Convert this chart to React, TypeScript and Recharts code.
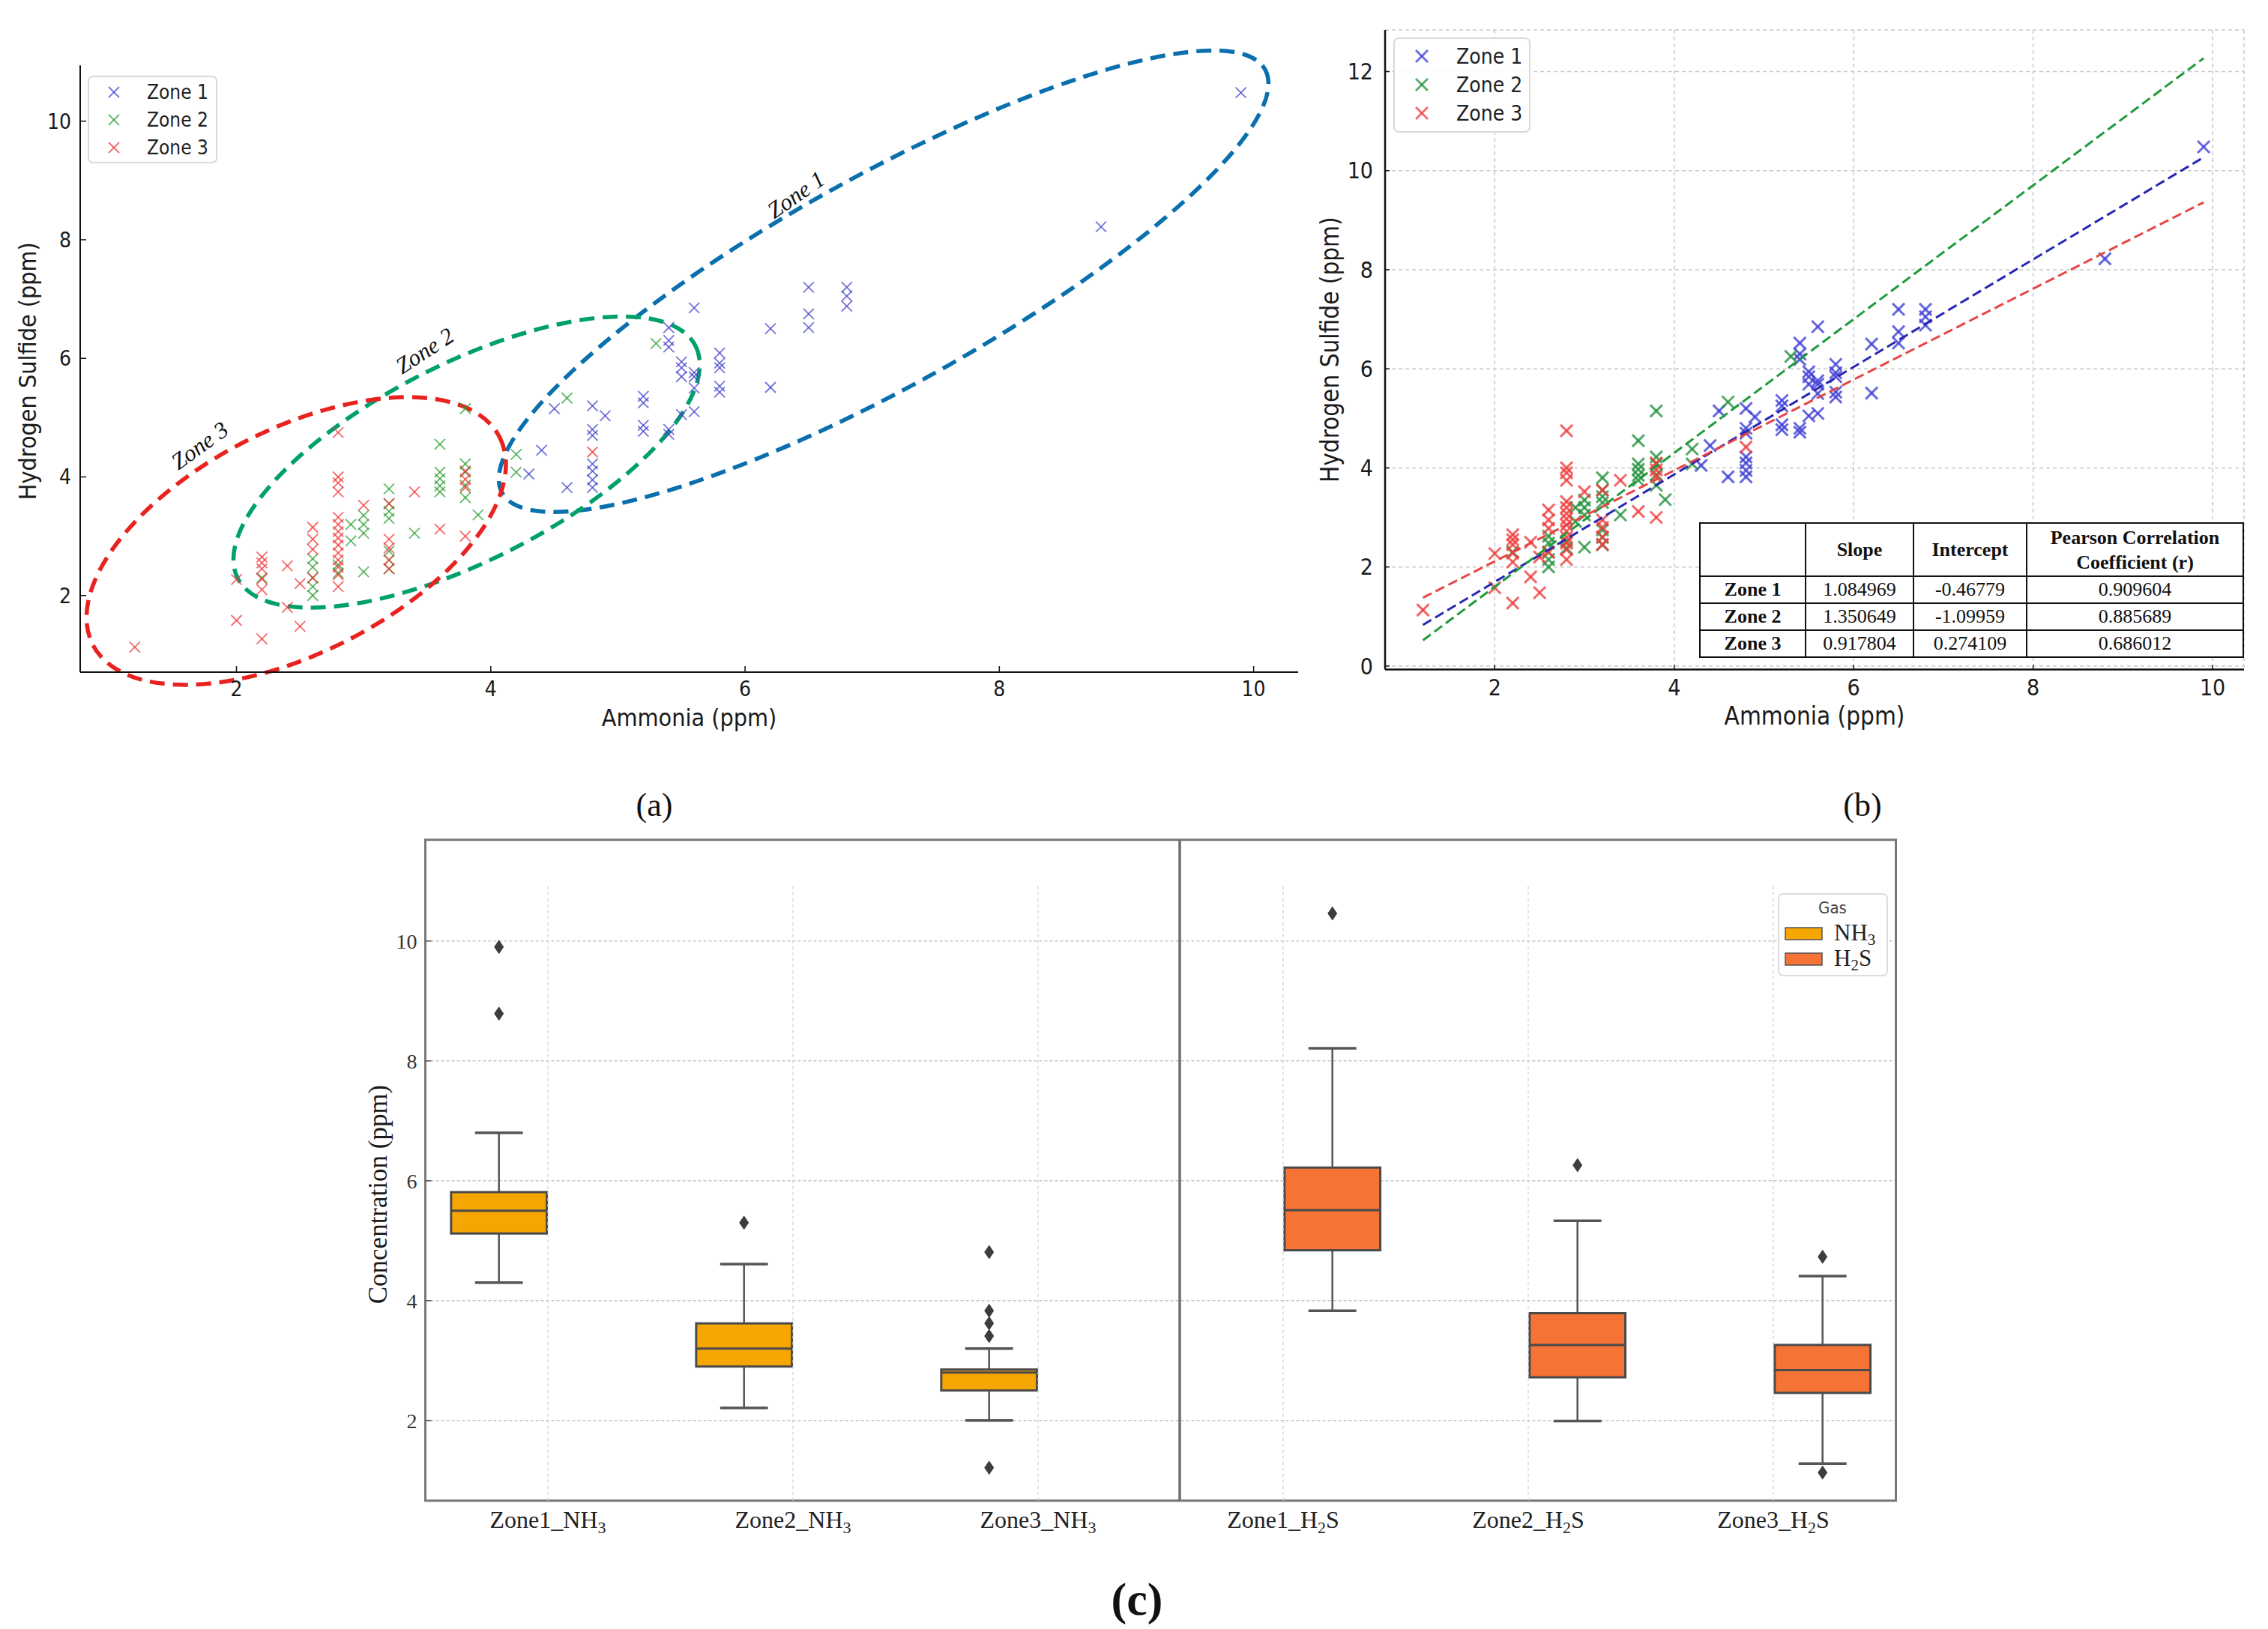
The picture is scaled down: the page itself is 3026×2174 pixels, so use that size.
import {
  Bar,
  CartesianGrid,
  ComposedChart,
  ReferenceArea,
  ReferenceLine,
  Scatter,
  XAxis,
  YAxis,
} from 'recharts';

const SANS = "'DejaVu Sans Condensed', 'DejaVu Sans', sans-serif";
const SERIF = "'Liberation Serif', 'Times New Roman', serif";

// readings per zone: [ammonia ppm, hydrogen sulfide ppm]
const zone1Readings: number[][] = [
  [4.3, 4.05], [4.4, 4.45], [4.5, 5.15], [4.6, 3.82],
  [4.8, 5.2], [4.8, 4.8], [4.8, 4.7], [4.8, 4.22], [4.8, 4.1], [4.8, 3.95], [4.8, 3.82],
  [4.9, 5.03],
  [5.2, 5.36], [5.2, 5.25], [5.2, 4.87], [5.2, 4.77],
  [5.4, 6.52], [5.4, 6.3], [5.4, 6.19], [5.4, 4.8], [5.4, 4.72],
  [5.5, 5.94], [5.5, 5.84], [5.5, 5.69], [5.5, 5.05],
  [5.6, 6.85], [5.6, 5.76], [5.6, 5.69], [5.6, 5.5], [5.6, 5.1],
  [5.8, 6.09], [5.8, 5.92], [5.8, 5.84], [5.8, 5.53], [5.8, 5.43],
  [6.2, 6.5], [6.2, 5.51],
  [6.5, 7.2], [6.5, 6.75], [6.5, 6.52],
  [6.8, 7.2], [6.8, 7.05], [6.8, 6.88],
  [8.8, 8.22], [9.9, 10.48],
];

const zone2Readings: number[][] = [
  [2.2, 2.3], [2.6, 2.0], [2.6, 2.15], [2.6, 2.3], [2.6, 2.48], [2.6, 2.62],
  [2.8, 2.38], [2.8, 2.52], [2.9, 2.92], [2.9, 3.2],
  [3.0, 2.4], [3.0, 3.05], [3.0, 3.2], [3.0, 3.35],
  [3.2, 2.45], [3.2, 2.6], [3.2, 2.75], [3.2, 3.3], [3.2, 3.42], [3.2, 3.55], [3.2, 3.8],
  [3.4, 3.05],
  [3.6, 3.75], [3.6, 3.85], [3.6, 3.97], [3.6, 4.08], [3.6, 4.55],
  [3.8, 3.65], [3.8, 3.86], [3.8, 4.08], [3.8, 4.22], [3.8, 5.15],
  [3.9, 3.36], [4.2, 4.08], [4.2, 4.38], [4.6, 5.33], [5.3, 6.25],
];

const zone3Readings: number[][] = [
  [1.2, 1.13], [2.0, 1.58], [2.0, 2.27],
  [2.2, 1.27], [2.2, 2.1], [2.2, 2.28], [2.2, 2.45], [2.2, 2.55], [2.2, 2.65],
  [2.4, 1.8], [2.4, 2.5], [2.5, 1.48], [2.5, 2.2],
  [2.6, 2.3], [2.6, 2.78], [2.6, 2.95], [2.6, 3.15],
  [2.8, 2.15], [2.8, 2.35], [2.8, 2.48], [2.8, 2.6], [2.8, 2.72], [2.8, 2.85], [2.8, 2.97],
  [2.8, 3.08], [2.8, 3.2], [2.8, 3.32], [2.8, 3.75], [2.8, 3.9], [2.8, 4.0], [2.8, 4.75],
  [3.0, 3.52],
  [3.2, 2.45], [3.2, 2.6], [3.2, 2.8], [3.2, 2.95], [3.2, 3.55],
  [3.4, 3.75], [3.6, 3.12], [3.8, 3.0], [3.8, 3.82], [3.8, 3.96], [3.8, 4.1], [4.8, 4.42],
];

const zoneNames = ['Zone 1', 'Zone 2', 'Zone 3'];

const xTicks = [2, 4, 6, 8, 10];
const yTicksA = [2, 4, 6, 8, 10];
const yTicksB = [0, 2, 4, 6, 8, 10, 12];

// end points of the fitted lines in (b)
const fitLine1 = [{ x: 1.2, y: 0.83 }, { x: 9.9, y: 10.27 }];
const fitLine2 = [{ x: 1.2, y: 0.52 }, { x: 9.9, y: 12.27 }];
const fitLine3 = [{ x: 1.2, y: 1.38 }, { x: 9.9, y: 9.36 }];

const fitSlopes = ['1.084969', '1.350649', '0.917804'];
const fitIntercepts = ['-0.46779', '-1.09959', '0.274109'];
const fitPearson = ['0.909604', '0.885689', '0.686012'];

// zone outlines in (a), data units: centre, tip of long axis, tip of short axis
const outlineCentres = [[7.09, 7.3], [3.81, 4.25], [2.47, 2.92]];
const outlineMajorTips = [[10.09, 10.87], [5.61, 6.21], [4.07, 4.67]];
const outlineMinorTips = [[7.49, 5.75], [4.16, 2.77], [2.87, 1.24]];
const outlineLabelSpots = [[6.4, 8.76], [3.48, 6.13], [1.71, 4.53]];

// box plot (c)
const boxCategories = ['Zone1_NH3', 'Zone2_NH3', 'Zone3_NH3', 'Zone1_H2S', 'Zone2_H2S', 'Zone3_H2S'];
const boxGas = ['NH3', 'NH3', 'NH3', 'H2S', 'H2S', 'H2S'];
const whiskerLows = [4.3, 2.21, 2.0, 3.83, 1.99, 1.28];
const q1s = [5.12, 2.9, 2.5, 4.84, 2.72, 2.46];
const medians = [5.5, 3.2, 2.8, 5.51, 3.26, 2.84];
const q3s = [5.81, 3.62, 2.85, 6.22, 3.79, 3.26];
const whiskerHighs = [6.8, 4.61, 3.2, 8.21, 5.33, 4.41];
const outlierValues = [[8.79, 9.9], [5.3], [1.21, 3.41, 3.62, 3.83, 4.81], [10.46], [6.26], [1.13, 4.73]];
const boxTicks = [2, 4, 6, 8, 10];
const gasNames = ['NH3', 'H2S'];

// styling
const markerColorsA = ['#4646cc', '#30a035', '#f03a3a'];
const markerColorsB = ['#3d3dd6', '#23913c', '#ef3b3b'];
const fitColors = ['#2626b3', '#1f9a3c', '#e64646'];
const outlineColors = ['#0a6fad', '#00a06a', '#e8231f'];
const labelAngles = [-35, -33, -36];
const gasColors: Record<string, string> = { NH3: '#f5a600', H2S: '#f47335' };
const dividerAt = 2.565; // category index units, between Zone3_NH3 and Zone1_H2S
const gridTopC = 10.93;

const toPoints = (rows: number[][]) => rows.map(([x, y]) => ({ x, y }));

const crossShape = (half: number, color: string, width: number, opacity: number) => (props: any) => {
  const { cx, cy } = props;
  if (!Number.isFinite(cx) || !Number.isFinite(cy)) return <g />;
  return (
    <g stroke={color} strokeWidth={width} strokeOpacity={opacity}>
      <line x1={cx - half} y1={cy - half} x2={cx + half} y2={cy + half} />
      <line x1={cx - half} y1={cy + half} x2={cx + half} y2={cy - half} />
    </g>
  );
};

const noMark = () => <g />;

const bottomTitle = (text: string, dy: number, size: number, family: string) => ({ viewBox }: any) => (
  <text
    x={viewBox.x + viewBox.width / 2}
    y={viewBox.y + dy}
    textAnchor="middle"
    fontFamily={family}
    fontSize={size}
    fill="#1a1a1a"
  >
    {text}
  </text>
);

const leftTitle = (text: string, dx: number, dy: number, size: number, family: string) => ({ viewBox }: any) => {
  const cx = viewBox.x + dx;
  const cy = viewBox.y + viewBox.height / 2 + dy;
  return (
    <text
      x={cx}
      y={cy}
      transform={`rotate(-90 ${cx} ${cy})`}
      textAnchor="middle"
      dominantBaseline="central"
      fontFamily={family}
      fontSize={size}
      fill="#1a1a1a"
    >
      {text}
    </text>
  );
};

function ZoneOutlines(props: any) {
  const { x, y, width, height } = props;
  const xs = [xTicks[0], xTicks[xTicks.length - 1]];
  const ys = [yTicksA[0], yTicksA[yTicksA.length - 1]];
  const px = (v: number) => x + ((v - xs[0]) / (xs[1] - xs[0])) * width;
  const py = (v: number) => y + ((ys[1] - v) / (ys[1] - ys[0])) * height;

  return (
    <g>
      {outlineCentres.map(([cxv, cyv], i) => {
        const cx = px(cxv);
        const cy = py(cyv);
        const mx = px(outlineMajorTips[i][0]) - cx;
        const my = py(outlineMajorTips[i][1]) - cy;
        const nx = px(outlineMinorTips[i][0]) - cx;
        const ny = py(outlineMinorTips[i][1]) - cy;
        const angle = (Math.atan2(my, mx) * 180) / Math.PI;
        const lx = px(outlineLabelSpots[i][0]);
        const ly = py(outlineLabelSpots[i][1]);
        return (
          <g key={zoneNames[i]}>
            <ellipse
              cx={cx}
              cy={cy}
              rx={Math.hypot(mx, my)}
              ry={Math.hypot(nx, ny)}
              transform={`rotate(${angle} ${cx} ${cy})`}
              fill="none"
              stroke={outlineColors[i]}
              strokeWidth={5.5}
              strokeDasharray="20 11"
            />
            <text
              x={lx}
              y={ly}
              transform={`rotate(${labelAngles[i]} ${lx} ${ly})`}
              textAnchor="middle"
              dominantBaseline="central"
              fontFamily={SERIF}
              fontStyle="italic"
              fontSize={31}
              fill="#111"
            >
              {zoneNames[i]}
            </text>
          </g>
        );
      })}
    </g>
  );
}

type LegendProps = {
  left: number;
  top: number;
  width: number;
  height: number;
  markerX: number;
  textX: number;
  rowYs: number[];
  fontSize: number;
  colors: string[];
  half: number;
  strokeWidth: number;
};

function ZoneLegend({ left, top, width, height, markerX, textX, rowYs, fontSize, colors, half, strokeWidth }: LegendProps) {
  return (
    <svg
      width={width + 4}
      height={height + 4}
      style={{ position: 'absolute', left: left - 2, top: top - 2, fontStretch: 'condensed' }}
    >
      <rect x={2} y={2} width={width} height={height} rx={6} fill="#fff" fillOpacity={0.85} stroke="#d9d9d9" strokeWidth={2} />
      {zoneNames.map((name, i) => (
        <g key={name}>
          {crossShape(half, colors[i], strokeWidth, 0.75)({ cx: markerX + 2, cy: rowYs[i] + 2 })}
          <text
            x={textX + 2}
            y={rowYs[i] + 2}
            dominantBaseline="central"
            fontFamily={SANS}
            fontSize={fontSize}
            fill="#222"
          >
            {name}
          </text>
        </g>
      ))}
    </svg>
  );
}

function PanelA() {
  const readings = [zone1Readings, zone2Readings, zone3Readings];
  return (
    <div style={{ position: 'absolute', left: 0, top: 0, fontStretch: 'condensed' }}>
      <ComposedChart width={1760} height={1000} margin={{ top: 87.3, right: 28, bottom: 33, left: 37 }}>
        <XAxis
          type="number"
          dataKey="x"
          domain={[0.771, 10.35]}
          ticks={xTicks}
          allowDataOverflow
          height={70}
          tickSize={-8}
          tickMargin={20}
          axisLine={{ stroke: '#111', strokeWidth: 2 }}
          tickLine={{ stroke: '#111', strokeWidth: 1.5 }}
          tick={{ fontSize: 28, fill: '#1a1a1a', fontFamily: SANS }}
          label={{ content: bottomTitle('Ammonia (ppm)', 71.5, 32, SANS) }}
        />
        <YAxis
          type="number"
          dataKey="y"
          domain={[0.708, 10.94]}
          ticks={yTicksA}
          allowDataOverflow
          width={70}
          tickSize={-8}
          tickMargin={20}
          axisLine={{ stroke: '#111', strokeWidth: 2 }}
          tickLine={{ stroke: '#111', strokeWidth: 1.5 }}
          tick={{ fontSize: 28, fill: '#1a1a1a', fontFamily: SANS }}
          label={{ content: leftTitle('Hydrogen Sulfide (ppm)', 0, 3, 32, SANS) }}
        />
        {readings.map((rows, i) => (
          <Scatter
            key={zoneNames[i]}
            name={zoneNames[i]}
            data={toPoints(rows)}
            shape={crossShape(7, markerColorsA[i], 1.8, 0.75)}
            isAnimationActive={false}
          />
        ))}
        <ReferenceArea
          x1={xTicks[0]}
          x2={xTicks[xTicks.length - 1]}
          y1={yTicksA[0]}
          y2={yTicksA[yTicksA.length - 1]}
          ifOverflow="visible"
          shape={ZoneOutlines}
        />
      </ComposedChart>
    </div>
  );
}

function FitTable() {
  const cols = [141, 144, 151, 289];
  const cell = {
    border: '2px solid #111',
    padding: 0,
    textAlign: 'center' as const,
    fontFamily: SERIF,
    fontSize: 26,
    color: '#111',
    lineHeight: '30px',
  };
  const head = { ...cell, fontWeight: 700 };
  return (
    <table
      style={{
        position: 'absolute',
        left: 2267,
        top: 697,
        width: 725,
        borderCollapse: 'collapse',
        tableLayout: 'fixed',
        background: '#fff',
      }}
    >
      <colgroup>
        {cols.map((w, i) => (
          <col key={i} style={{ width: w }} />
        ))}
      </colgroup>
      <tbody>
        <tr style={{ height: 71 }}>
          <th style={head} />
          <th style={head}>Slope</th>
          <th style={head}>Intercept</th>
          <th style={{ ...head, lineHeight: '33px' }}>
            Pearson Correlation
            <br />
            Coefficient (r)
          </th>
        </tr>
        {zoneNames.map((zone, i) => (
          <tr key={zone} style={{ height: 36 }}>
            <td style={head}>{zone}</td>
            <td style={cell}>{fitSlopes[i]}</td>
            <td style={cell}>{fitIntercepts[i]}</td>
            <td style={cell}>{fitPearson[i]}</td>
          </tr>
        ))}
      </tbody>
    </table>
  );
}

function PanelB() {
  const readings = [zone1Readings, zone2Readings, zone3Readings];
  const fits = [fitLine1, fitLine2, fitLine3];
  return (
    <div style={{ position: 'absolute', left: 1740, top: 0, fontStretch: 'condensed' }}>
      <ComposedChart width={1286} height={1000} margin={{ top: 40, right: 32, bottom: 36.5, left: 28 }}>
        <CartesianGrid stroke="#c9c9c9" strokeWidth={1.5} strokeDasharray="5 4" />
        <XAxis
          type="number"
          dataKey="x"
          domain={[0.778, 10.35]}
          ticks={xTicks}
          allowDataOverflow
          height={70}
          tickSize={-6}
          tickMargin={19}
          axisLine={{ stroke: '#111', strokeWidth: 2.5 }}
          tickLine={{ stroke: '#111', strokeWidth: 1.5 }}
          tick={{ fontSize: 30, fill: '#1a1a1a', fontFamily: SANS }}
          label={{ content: bottomTitle('Ammonia (ppm)', 73.5, 33, SANS) }}
        />
        <YAxis
          type="number"
          dataKey="y"
          domain={[-0.07, 12.84]}
          ticks={yTicksB}
          allowDataOverflow
          width={80}
          tickSize={-6}
          tickMargin={22}
          axisLine={{ stroke: '#111', strokeWidth: 2.5 }}
          tickLine={{ stroke: '#111', strokeWidth: 1.5 }}
          tick={{ fontSize: 30, fill: '#1a1a1a', fontFamily: SANS }}
          label={{ content: leftTitle('Hydrogen Sulfide (ppm)', 6, 0, 33, SANS) }}
        />
        {readings.map((rows, i) => (
          <Scatter
            key={zoneNames[i]}
            name={zoneNames[i]}
            data={toPoints(rows)}
            shape={crossShape(8, markerColorsB[i], 3, 0.78)}
            isAnimationActive={false}
          />
        ))}
        {fits.map((line, i) => (
          <Scatter
            key={`fit-${zoneNames[i]}`}
            data={line}
            line={{ stroke: fitColors[i], strokeWidth: 3, strokeDasharray: '13 6' }}
            shape={noMark}
            isAnimationActive={false}
          />
        ))}
      </ComposedChart>
    </div>
  );
}

function CategoryTick({ x, y, payload }: any) {
  const [prefix, formula] = String(payload.value).split('_');
  const parts = formula.split(/(\d)/).filter(Boolean);
  return (
    <text x={x} y={y + 36} textAnchor="middle" fontFamily={SERIF} fontSize={32} fill="#222">
      <tspan>{prefix}_</tspan>
      {parts.map((part: string, i: number) =>
        /\d/.test(part) ? (
          <tspan key={i} fontSize={22} dy={7}>
            {part}
          </tspan>
        ) : (
          <tspan key={i} dy={i > 0 ? -7 : 0}>
            {part}
          </tspan>
        ),
      )}
    </text>
  );
}

const diamondPath = (cx: number, cy: number) =>
  `M${cx},${cy - 9.5} L${cx + 6.5},${cy} L${cx},${cy + 9.5} L${cx - 6.5},${cy} Z`;

const boxShape = (gas: string) => (props: any) => {
  const { x, y, width, height, payload } = props;
  const range = payload ? payload[gas] : null;
  if (!Array.isArray(range) || !Number.isFinite(y) || !Number.isFinite(height) || height <= 0) return <g />;
  const [lo, hi] = range;
  const pix = (v: number) => y + ((hi - v) / (hi - lo)) * height;
  const cx = x + width / 2;
  const boxW = width * 0.975;
  const capHalf = boxW / 4;
  const top = pix(payload.q3);
  const bottom = pix(payload.q1);
  const mid = pix(payload.median);
  return (
    <g>
      <line x1={cx} x2={cx} y1={pix(hi)} y2={top} stroke="#555" strokeWidth={2.5} />
      <line x1={cx} x2={cx} y1={bottom} y2={pix(lo)} stroke="#555" strokeWidth={2.5} />
      <line x1={cx - capHalf} x2={cx + capHalf} y1={pix(hi)} y2={pix(hi)} stroke="#555" strokeWidth={3.5} />
      <line x1={cx - capHalf} x2={cx + capHalf} y1={pix(lo)} y2={pix(lo)} stroke="#555" strokeWidth={3.5} />
      <rect
        x={cx - boxW / 2}
        y={top}
        width={boxW}
        height={Math.max(bottom - top, 1)}
        fill={gasColors[gas]}
        stroke="#4a4a4a"
        strokeWidth={3}
      />
      <line x1={cx - boxW / 2} x2={cx + boxW / 2} y1={mid} y2={mid} stroke="#4a4a4a" strokeWidth={3} />
      {payload.outliers.map((v: number, i: number) => (
        <path key={i} d={diamondPath(cx, pix(v))} fill="#3d3d3d" />
      ))}
    </g>
  );
};

function PanelC() {
  const rows = boxCategories.map((name, i) => ({
    name,
    NH3: boxGas[i] === 'NH3' ? [whiskerLows[i], whiskerHighs[i]] : null,
    H2S: boxGas[i] === 'H2S' ? [whiskerLows[i], whiskerHighs[i]] : null,
    q1: q1s[i],
    median: medians[i],
    q3: q3s[i],
    outliers: outlierValues[i],
  }));
  const yDomain = [0.662, 11.69];
  return (
    <div style={{ position: 'absolute', left: 440, top: 1080 }}>
      <ComposedChart
        width={2160}
        height={1094}
        data={rows}
        barCategoryGap="10%"
        barGap={0}
        margin={{ top: 40.7, right: 70.5, bottom: 91.3, left: 27.5 }}
      >
        <CartesianGrid vertical={false} stroke="#c6c6c6" strokeWidth={1.5} strokeDasharray="4 3" />
        <XAxis
          dataKey="name"
          type="category"
          interval={0}
          height={80}
          tickSize={0}
          tickMargin={0}
          tickLine={false}
          axisLine={false}
          tick={CategoryTick}
        />
        <XAxis
          xAxisId="split"
          type="number"
          domain={[-0.5, boxCategories.length - 0.5]}
          allowDataOverflow
          hide
        />
        <YAxis
          type="number"
          domain={yDomain}
          ticks={boxTicks}
          allowDataOverflow
          width={100}
          tickSize={-8}
          tickMargin={19}
          axisLine={false}
          tickLine={{ stroke: '#555', strokeWidth: 1.5 }}
          tick={{ fontSize: 28, fill: '#333', fontFamily: SERIF }}
          label={{ content: leftTitle('Concentration (ppm)', 36.5, 32.3, 35, SERIF) }}
        />
        {boxCategories.map((name) => (
          <ReferenceLine
            key={name}
            segment={[
              { x: name, y: yDomain[0] },
              { x: name, y: gridTopC },
            ]}
            stroke="#d2d2d2"
            strokeWidth={1.3}
            strokeDasharray="4 4"
          />
        ))}
        {gasNames.map((gas) => (
          <Bar key={gas} dataKey={gas} shape={boxShape(gas)} isAnimationActive={false} />
        ))}
        <ReferenceLine xAxisId="split" x={dividerAt} stroke="#6e6e6e" strokeWidth={3.5} />
        <ReferenceArea
          x1={boxCategories[0]}
          x2={boxCategories[boxCategories.length - 1]}
          y1={yDomain[0]}
          y2={yDomain[1]}
          ifOverflow="visible"
          fill="none"
          fillOpacity={0}
          stroke="#787878"
          strokeWidth={3}
        />
      </ComposedChart>
    </div>
  );
}

function GasLegend() {
  return (
    <svg width={149} height={113} style={{ position: 'absolute', left: 2371, top: 1191 }}>
      <rect x={2} y={2} width={145} height={109} rx={6} fill="#fff" stroke="#dcdcdc" strokeWidth={2} />
      <text x={74} y={28} textAnchor="middle" fontFamily={SANS} fontSize={22} fill="#444" style={{ fontStretch: 'condensed' }}>
        Gas
      </text>
      {gasNames.map((gas, i) => {
        const top = 47 + i * 34;
        const [head, digit, tail] = gas === 'NH3' ? ['NH', '3', ''] : ['H', '2', 'S'];
        return (
          <g key={gas}>
            <rect x={11} y={top} width={49} height={16} fill={gasColors[gas]} stroke="#555" strokeWidth={1.5} />
            <text x={76} y={top + 17} fontFamily={SERIF} fontSize={31} fill="#222">
              <tspan>{head}</tspan>
              <tspan fontSize={21} dy={6}>
                {digit}
              </tspan>
              {tail ? <tspan dy={-6}>{tail}</tspan> : null}
            </text>
          </g>
        );
      })}
    </svg>
  );
}

const captionStyle = (left: number, top: number, size: number, bold: boolean) => ({
  position: 'absolute' as const,
  left,
  top,
  transform: 'translate(-50%, -50%)',
  fontFamily: SERIF,
  fontSize: size,
  fontWeight: bold ? 700 : 400,
  color: '#111',
  lineHeight: 1,
  whiteSpace: 'nowrap' as const,
});

export default function App() {
  return (
    <div
      style={{
        position: 'absolute',
        left: 0,
        top: 0,
        width: 3026,
        height: 2174,
        background: '#fff',
        overflow: 'hidden',
      }}
    >
      <PanelA />
      <PanelB />
      <FitTable />
      <PanelC />
      <ZoneLegend
        left={118}
        top={102}
        width={171}
        height={115}
        markerX={34}
        textX={78}
        rowYs={[21, 58, 95]}
        fontSize={26}
        colors={markerColorsA}
        half={7}
        strokeWidth={1.8}
      />
      <ZoneLegend
        left={1860}
        top={51}
        width={181}
        height={125}
        markerX={37}
        textX={83}
        rowYs={[24, 62, 100]}
        fontSize={28}
        colors={markerColorsB}
        half={8}
        strokeWidth={3}
      />
      <GasLegend />
      <div style={captionStyle(873, 1075, 44, false)}>(a)</div>
      <div style={captionStyle(2485, 1075, 44, false)}>(b)</div>
      <div style={captionStyle(1517, 2134, 62, true)}>(c)</div>
    </div>
  );
}
